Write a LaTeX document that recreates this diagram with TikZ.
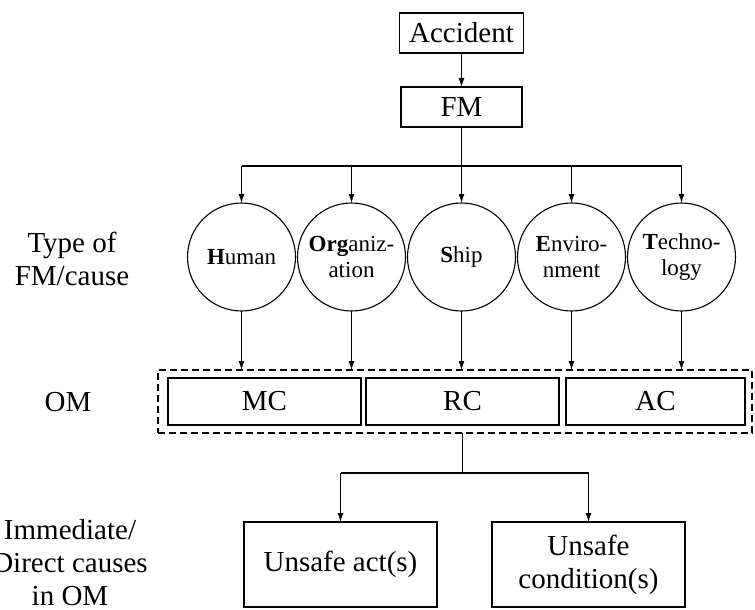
\documentclass[tikz,border=0pt]{standalone}
\usepackage{fontspec}
\setmainfont{Liberation Serif}
\usetikzlibrary{arrows.meta}
\begin{document}
\begin{tikzpicture}[x=1pt,y=-1pt,
  every node/.style={inner sep=0pt, outer sep=0pt},
  big/.style={font=\fontsize{29}{33}\selectfont, align=center},
  box/.style={big, draw, line width=1.1pt},
  causecircle/.style={draw, circle, line width=1.1pt, minimum size=108pt,
    font=\fontsize{23}{26}\selectfont, align=center},
  conn/.style={line width=1.1pt},
  arr/.style={conn, -{Latex[length=9pt,width=6pt]}},
  omframe/.style={draw, line width=1.1pt, dash pattern=on 7pt off 4pt}
]
\useasboundingbox (0,0) rectangle (755,610);

% top boxes
\node[box, minimum width=124pt, minimum height=40pt] (acc) at (461.5,33) {Accident};
\node[box, minimum width=121pt, minimum height=40pt] (fm) at (461.5,107) {FM};

% circles
\node[causecircle] (h) at (241.5,257) {\textbf{H}uman};
\node[causecircle] (o) at (351.5,257) {\textbf{Org}aniz-\\ation};
\node[causecircle] (s) at (461.5,257) {\textbf{S}hip};
\node[causecircle] (e) at (571.5,257) {\textbf{E}nviro-\\nment};
\node[causecircle] (t) at (681.5,257) {\textbf{T}echno-\\logy};

% OM frame and boxes
\node[omframe, minimum width=594pt, minimum height=63pt] (om) at (455,401.5) {};
\node[box, minimum width=193pt, minimum height=47pt] (mc) at (264.5,401.5) {MC};
\node[box, minimum width=193pt, minimum height=47pt] (rc) at (462.5,401.5) {RC};
\node[box, minimum width=179pt, minimum height=47pt] (ac) at (655.5,401.5) {AC};

% bottom boxes
\node[box, minimum width=193pt, minimum height=85pt] (ua) at (340.5,564.5) {Unsafe act(s)};
\node[box, minimum width=193pt, minimum height=85pt] (uc) at (588.5,564.5) {Unsafe\\condition(s)};

% left labels
\node[big] (ltype) at (72,259) {Type of\\FM/cause};
\node[big] (lom) at (68,402) {OM};
\node[big] (limm) at (70,563) {Immediate/\\Direct causes\\in OM};

% connectors
\coordinate (bus) at (461.5,166);
\coordinate (split) at (462.5,473);
\draw[arr] (acc.south) -- (fm.north);
\draw[conn] (fm.south) -- (bus);
\draw[conn] (h.north |- bus) -- (t.north |- bus);
\foreach \c in {h,o,s,e,t}{
  \draw[arr] (\c.north |- bus) -- (\c.north);
  \draw[arr] (\c.south) -- (\c.south |- om.north);
}
\draw[conn] (split |- om.south) -- (split);
\draw[conn] (ua.north |- split) -- (uc.north |- split);
\draw[arr] (ua.north |- split) -- (ua.north);
\draw[arr] (uc.north |- split) -- (uc.north);
\end{tikzpicture}
\end{document}
